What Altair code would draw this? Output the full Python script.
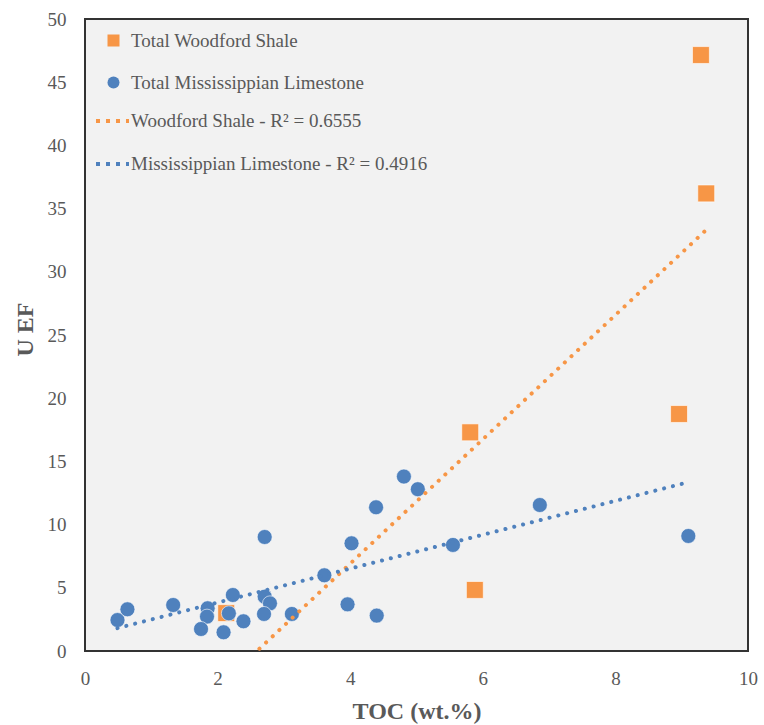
import altair as alt
import pandas as pd

# Woodford Shale samples
wf_toc = [2.13, 5.81, 5.88, 8.96, 9.29, 9.37]
wf_uef = [3.0, 17.3, 4.83, 18.75, 47.15, 36.2]

# Mississippian Limestone samples
ms_toc = [0.49, 0.64, 1.33, 1.85, 1.84, 1.75, 2.17, 2.23, 2.09, 2.39, 2.71, 2.79, 2.70, 3.12,
          4.81, 5.02, 4.39, 4.02, 3.61, 5.55, 3.96, 4.40, 2.71, 6.86, 9.10]
ms_uef = [2.45, 3.30, 3.64, 3.38, 2.72, 1.74, 2.98, 4.43, 1.48, 2.35, 4.30, 3.77, 2.93, 2.93,
          13.8, 12.8, 11.37, 8.52, 5.99, 8.39, 3.69, 2.80, 9.02, 11.55, 9.10]

series_names = ["Total Woodford Shale", "Total Mississippian Limestone"]
trend_names = ["Woodford Shale - R² = 0.6555", "Mississippian Limestone - R² = 0.4916"]
colors = ["#F79646", "#4F81BD"]
x_ticks = [0, 2, 4, 6, 8, 10]
y_ticks = [0, 5, 10, 15, 20, 25, 30, 35, 40, 45, 50]

df = pd.DataFrame({
    "toc": wf_toc + ms_toc,
    "uef": wf_uef + ms_uef,
    "series": [series_names[0]] * len(wf_toc) + [series_names[1]] * len(ms_toc),
})

FONT = "Liberation Serif"
GRAY = "#595959"

x_enc = alt.X("toc:Q", scale=alt.Scale(domain=[0, 10], nice=False),
              axis=alt.Axis(values=x_ticks, format="d", title="TOC (wt.%)", domain=False, ticks=False,
                            grid=False, labelFlush=False, labelPadding=18, labelFontSize=19,
                            labelFont=FONT, labelColor=GRAY, titleFont=FONT, titleFontSize=24,
                            titleFontWeight="bold", titleColor=GRAY, titleX=331.5, titleY=60,
                            titleBaseline="middle", titleAlign="center"))
y_enc = alt.Y("uef:Q", scale=alt.Scale(domain=[0, 50], nice=False),
              axis=alt.Axis(values=y_ticks, format="d", title="U EF", domain=False, ticks=False,
                            grid=False, labelFlush=False, labelPadding=19, labelFontSize=19,
                            labelFont=FONT, labelColor=GRAY, titleFont=FONT, titleFontSize=24,
                            titleFontWeight="bold", titleColor=GRAY, titleX=-60, titleY=310,
                            titleBaseline="middle", titleAlign="center", titleAngle=270))

pt_legend = alt.Legend(title=None, orient="none", legendX=19, legendY=12, padding=0,
                       labelFont=FONT, labelFontSize=19, labelColor=GRAY, labelLimit=500,
                       symbolSize=144, symbolStrokeWidth=0, labelOffset=8, rowPadding=22)

fill_enc = alt.Fill("series:N", scale=alt.Scale(domain=series_names, range=colors), legend=pt_legend)
shape_enc = alt.Shape("series:N", scale=alt.Scale(domain=series_names, range=["square", "circle"]),
                      legend=pt_legend)

base_pts = alt.Chart(df).encode(x=x_enc, y=y_enc, fill=fill_enc, shape=shape_enc)

wf_points = base_pts.transform_filter(
    alt.datum.series == series_names[0]
).mark_point(filled=True, opacity=1, size=285, stroke="#ffffff", strokeWidth=0.6)

ms_points = base_pts.transform_filter(
    alt.datum.series == series_names[1]
).mark_point(filled=True, opacity=1, size=225, stroke="#ffffff", strokeWidth=0.6)

lines = alt.Chart(df).transform_regression(
    "toc", "uef", groupby=["series"]
).transform_calculate(
    trend=f"datum.series == '{series_names[0]}' ? '{trend_names[0]}' : '{trend_names[1]}'"
).mark_line(strokeWidth=4, strokeCap="round", strokeDash=[0.1, 9], clip=True).encode(
    x="toc:Q",
    y="uef:Q",
    stroke=alt.Stroke("trend:N", scale=alt.Scale(domain=trend_names, range=colors),
                      legend=alt.Legend(title=None, orient="none", legendX=9, legendY=83.5, padding=0,
                                        labelFont=FONT, labelFontSize=19, labelColor=GRAY,
                                        labelLimit=500, symbolType="stroke", symbolSize=1089,
                                        symbolStrokeWidth=4, symbolDash=[4, 6], labelOffset=0,
                                        rowPadding=14)),
    detail="series:N",
)

chart = alt.layer(wf_points, ms_points, lines).properties(
    width=663, height=632,
    autosize=alt.AutoSizeParams(type="none"),
    padding={"left": 85, "top": 19, "right": 16, "bottom": 74},
    background="white",
).configure_view(
    fill="#F2F2F2", stroke="#333333", strokeWidth=2
)

chart.save("out.html", embed_options={"renderer": "svg", "actions": False})
